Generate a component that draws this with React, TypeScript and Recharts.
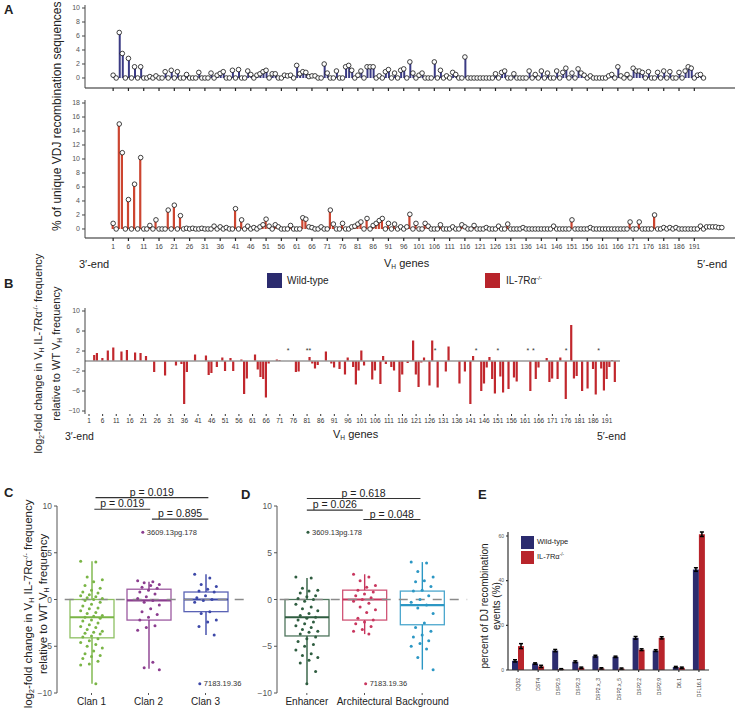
import React from 'react';
import {
  ComposedChart, BarChart, Bar, Scatter, XAxis, YAxis, ReferenceLine, ErrorBar,
} from 'recharts';

const FONT = '"Liberation Sans", Arial, Helvetica, sans-serif';

// ---------- panel A / B : V_H genes ----------
const geneTicks = [1, 6, 11, 16, 21, 26, 31, 36, 41, 46, 51, 56, 61, 66, 71, 76, 81, 86, 91, 96,
  101, 106, 111, 116, 121, 126, 131, 136, 141, 146, 151, 156, 161, 166, 171, 176, 181, 186, 191];

// % of unique VDJ sequences, wild-type (genes 1..194)
const wtFreq = [
  0.4, 0, 6.5, 3.5, 0, 2.8, 0, 1.6, 0, 1.6,
  0, 0, 0.2, 0, 0.3, 0, 0, 0.9, 0, 1.1,
  0, 0.9, 0, 0, 0.5, 0, 0, 0, 0.8, 0,
  0, 0, 0.7, 0, 0.4, 0.65, 0.9, 0, 0, 1.1,
  0, 1.2, 0, 0, 1.0, 0.5, 0, 0.4, 0.6, 0.9,
  1.1, 0, 0.6, 0.6, 0, 0, 0.4, 0.3, 0.4, 0,
  1.8, 0.6, 0.9, 0.8, 0.2, 0.3, 0.3, 0, 0, 2.0,
  0.7, 0, 0, 1.0, 0, 0, 1.6, 1.8, 1.1, 0,
  0.4, 1.0, 0, 1.6, 1.6, 1.6, 0, 0.3, 0, 0.9,
  1.2, 0, 0.7, 0, 1.1, 1.3, 0, 2.3, 0.7, 0,
  0.4, 0.7, 0, 0, 0, 2.3, 0, 1.1, 0, 0.3,
  0, 0.8, 0.5, 0, 0, 3.0, 0, 0, 0, 0,
  0, 0, 0, 0, 0, 0.6, 0, 0.8, 1.0, 0,
  0, 0.6, 0, 0, 0, 0, 1.0, 0, 0.5, 0,
  1.0, 0, 0.7, 0, 0, 1.0, 0, 0.8, 1.4, 0,
  0.7, 0, 1.3, 0.7, 0.4, 0, 0.3, 0, 0, 0,
  0, 0, 0.3, 0.5, 0, 1.6, 0.3, 0, 0.5, 0,
  1.4, 1.0, 1.0, 0.8, 0, 0.9, 0, 0, 0.8, 0,
  1.0, 0, 0.9, 0, 0, 0.8, 0, 1.0, 1.6, 1.4,
  0, 0.4, 0.5, 0,
];

// % of unique VDJ sequences, IL-7Ra-/- (genes 1..200)
const ilFreq = [
  0.8, 0, 15.0, 10.9, 0, 4.2, 0, 6.4, 0, 10.2,
  0, 0, 0.5, 0, 1.3, 0, 0, 0, 2.7, 0,
  3.4, 0, 1.9, 0, 0.1, 0, 0.1, 0, 0, 0.1,
  0, 0, 0, 0.4, 0, 0.3, 0, 0.2, 0, 0,
  2.9, 0, 1.3, 0, 0.4, 0, 0.2, 0, 0.3, 0.6,
  1.4, 0.4, 0, 0.6, 0.3, 0, 0, 0, 0.5, 0,
  0, 0, 1.6, 1.4, 0.3, 0.2, 0, 0, 0.3, 0,
  0, 2.7, 0.7, 0, 0, 0.8, 0, 0, 0.3, 0.4,
  0.7, 1.0, 0, 1.5, 0, 0.5, 0.8, 1.2, 1.5, 0,
  0.8, 0, 0.7, 0, 0.3, 0, 0.3, 2.1, 0, 0.8,
  0, 0, 0.8, 0.4, 0, 0, 0, 0.6, 0, 0,
  0, 0.3, 0, 0, 0.6, 0.3, 0, 0, 0.5, 0,
  0, 0, 0.2, 0, 0, 0, 0.4, 0, 0, 0.7,
  0, 0, 0, 0, 0.2, 0, 0, 0, 0, 0,
  0, 0, 0, 0, 0.4, 0, 0, 0, 0, 0,
  1.3, 0, 0, 0, 0, 0, 0.2, 0, 0, 0,
  0, 0, 0, 0, 0, 0, 0, 0, 0, 1.0,
  0, 0, 1.0, 0, 0, 0, 0, 2.0, 0, 0,
  0.2, 0, 0.2, 0, 0.2, 0, 0, 0, 0, 0,
  0, 0, 0.4, 0, 0.3, 0.3, 0.3, 0.3, 0.2, 0.2,
];

// log2 fold change IL-7Ra-/- vs WT (genes 1..194)
const foldChange = [
  0, 0, 1.2, 1.6, 0, 0.6, 0, 2.1, 0, 2.7,
  0, 0, 1.9, 0, 2.2, 0, 0, 1.7, 0, 1.6,
  0, 1.0, 0, 0, -2.2, 0, 0, 0, -2.9, 0,
  0, 0, -0.9, 0, -0.6, -8.6, -2.2, 0, 0, 1.3,
  0, 0, 0, 1.1, -2.8, -2.4, 0, -1.2, 0, 0.7,
  -2.0, 0, 0.6, -2.0, 0, 0, 0.3, -6.6, -3.5, 0,
  0, 1.3, -1.7, -3.2, -3.6, -7.3, -0.5, 0, 0, 0.3,
  0.2, 0, 0, 0, 0, 0, -2.2, -2.1, 0, 0,
  0, 0.8, -0.5, -1.5, -0.8, 0, 0, 1.9, 0, -0.5,
  -1.3, 0, -1.6, 0, -2.7, 0.7, 0, -1.2, -4.7, -1.9,
  2.1, -0.9, 0, 0, -3.7, -1.9, 0, -4.6, 1.0, -0.6,
  0, -1.2, -1.9, 0, -6.2, -2.7, 0, -0.4, 0, 4.1,
  -2.7, -5.2, -0.3, 0.7, 0, -4.9, 4.1, 0, -5.3, 0,
  0, -2.1, 2.9, 0, 0, 0, -4.5, 0, -2.1, 0,
  -8.6, 1.0, 0, 0, -6.0, -4.5, -1.3, 0.8, -3.6, -6.5,
  0, -3.1, -6.3, 0, -5.6, 0, -3.3, -4.1, 0, 0,
  0, 0, -6.0, 0, -3.6, -1.3, 0, 0, 0.6, -4.2,
  -3.5, 0, -3.6, 0.7, 0, -7.6, 0, 7.2, -3.5, -3.0,
  0, -6.0, 0, -5.5, 0, -1.6, -6.7, 0, -1.5, -5.9,
  -3.6, -1.2, 0.2, -4.2,
];
const starGenes = [74, 81, 82, 128, 143, 151, 162, 164, 176, 188];
const starLevel = 2.2;

// ---------- panel C : clans ----------
const clanNames = ['Clan 1', 'Clan 2', 'Clan 3'];
const clanLo = [-9.0, -7.4, -3.8];
const clanQ1 = [-4.1, -2.2, -1.3];
const clanMed = [-1.9, -0.1, 0.0];
const clanQ3 = [0.0, 1.1, 0.8];
const clanHi = [4.1, 1.9, 2.7];
const clanColors = ['#7ab546', '#8b3d8f', '#3d48a8'];
const clan1Pts = [4.1, 4.0, 2.4, 2.1, 1.9, 1.5, 1.2, 1.0, 0.8, 0.7, 0.5, 0.4, 0.3, 0.2, 0.1, 0.0, -0.1,
  -0.3, -0.5, -0.7, -0.9, -1.0, -1.2, -1.4, -1.5, -1.7, -1.8, -1.9, -2.0, -2.2, -2.3, -2.5, -2.7,
  -2.9, -3.0, -3.2, -3.4, -3.5, -3.6, -3.7, -3.9, -4.0, -4.2, -4.4, -4.6, -4.8, -5.0, -5.2, -5.5,
  -5.8, -6.0, -6.1, -6.3, -6.6, -6.9, -7.0, -9.0];
const clan2Pts = [2.0, 1.9, 1.8, 1.6, 1.5, 1.3, 1.2, 1.0, 0.8, 0.6, 0.3, 0.1, -0.1, -0.3, -0.6, -1.0,
  -1.3, -1.6, -1.9, -2.2, -2.8, -3.0, -3.3, -6.7, -7.3, -7.5];
const clan3Pts = [2.7, 2.3, 1.6, 1.4, 1.1, 0.9, 0.8, 0.4, 0.2, 0.0, -0.1, -0.3, -1.3, -1.5, -2.2,
  -2.4, -2.9, -3.8];
const clanOutVals = [7.2, -9.0];
const clanOutGroup = [1, 2];
const outNames = ['3609.13pg.178', '7183.19.36'];
const clanP = ['p = 0.019', 'p = 0.019', 'p = 0.895'];

// ---------- panel D : regions ----------
const regNames = ['Enhancer', 'Architectural', 'Background'];
const regLo = [-9.0, -3.7, -7.5];
const regQ1 = [-3.9, -2.2, -2.7];
const regMed = [-1.9, 0.0, -0.6];
const regQ3 = [0.0, 1.0, 0.9];
const regHi = [2.3, 2.7, 4.0];
const regColors = ['#2f5d40', '#c8365e', '#2c97c4'];
const enhPts = [2.4, 2.3, 1.2, 1.0, 0.9, 0.7, 0.4, 0.3, 0.1, 0.0, -0.2, -0.5, -0.8, -1.0, -1.2, -1.5,
  -1.7, -1.9, -2.0, -2.2, -2.4, -2.6, -2.8, -3.0, -3.2, -3.4, -3.5, -3.7, -4.0, -4.2, -4.5, -4.8,
  -5.0, -5.4, -5.8, -6.0, -6.2, -6.5, -6.8, -7.7, -9.0];
const archPts = [2.7, 2.4, 2.0, 1.5, 1.3, 1.0, 0.8, 0.6, 0.4, 0.2, 0.0, -0.2, -0.4, -0.8, -1.1, -1.4,
  -2.0, -2.2, -2.4, -2.6, -2.9, -3.2, -3.4, -3.7];
const backPts = [4.0, 3.9, 3.0, 2.4, 2.0, 1.9, 1.4, 1.0, 0.9, 0.4, 0.0, -0.3, -0.6, -0.9, -1.5, -2.5,
  -3.0, -3.4, -3.8, -4.0, -4.4, -4.7, -5.0, -5.3, -6.2, -7.5];
const regOutVals = [7.2, -9.0];
const regOutGroup = [0, 1];
const regP = ['p = 0.618', 'p = 0.026', 'p = 0.048'];

// ---------- panel E : DJ recombination ----------
const dNames = ['DQ52', 'DST4', 'DSP2.5', 'DSP2.3', 'DSP2.x_3', 'DSP2.x_5', 'DSP2.2', 'DSP2.9', 'D6.1', 'DFL16.1'];
const dWT = [4.1, 2.9, 8.7, 3.7, 6.2, 5.9, 14.4, 8.7, 1.3, 45.0];
const dIL = [10.7, 1.6, 0.4, 1.0, 0.7, 0.6, 9.1, 14.4, 1.0, 60.8];
const dWTErr = [0.5, 0.3, 0.5, 0.4, 0.4, 0.3, 0.6, 0.4, 0.3, 0.8];
const dILErr = [1.1, 0.5, 0.2, 0.3, 0.3, 0.3, 0.4, 0.5, 0.3, 1.0];

const WT_BLUE = '#2b2b6e';
const IL_RED = '#b8242b';

const wtTable = wtFreq.map((v, i) => ({ gene: i + 1, v }));
const ilTable = ilFreq.map((v, i) => ({ gene: i + 1, v }));
const fcTable = foldChange.map((v, i) => ({ gene: i + 1, v }));
const starTable = starGenes.map((g) => ({ gene: g, v: starLevel }));

const boxTable = (names: string[], lo: number[], q1: number[], med: number[], q3: number[], hi: number[], colors: string[]) =>
  names.map((name, i) => ({ name, lo: lo[i], q1: q1[i], med: med[i], q3: q3[i], hi: hi[i], color: colors[i] }));

// deterministic spread so the dots do not sit on one line
const spread = (i: number) => ((((i * 7) % 11) / 10) - 0.5) * 0.38;
const dotTable = (vals: number[], group: number) => vals.map((y, i) => ({ x: group + spread(i), y }));

const Ring = (p: any) => (
  <circle cx={p.cx} cy={p.cy} r={2.3} fill="#fff" stroke="#111" strokeWidth={0.8} />
);

const Star = (p: any) => (
  <text x={p.cx} y={p.cy + 3} textAnchor="middle" fontSize={7} fill="#333">*</text>
);

const BoxShape = (p: any) => {
  const d = p.payload;
  const top = Math.min(p.y, p.y + p.height);
  const bot = Math.max(p.y, p.y + p.height);
  const k = (bot - top) / (d.hi - d.lo);
  const py = (v: number) => top + (d.hi - v) * k;
  const cx = p.x + p.width / 2;
  return (
    <g>
      <line x1={cx} x2={cx} y1={py(d.hi)} y2={py(d.q3)} stroke={d.color} strokeWidth={1.4} />
      <line x1={cx} x2={cx} y1={py(d.q1)} y2={py(d.lo)} stroke={d.color} strokeWidth={1.4} />
      <rect x={p.x} y={py(d.q3)} width={p.width} height={py(d.q1) - py(d.q3)} fill="none"
        stroke={d.color} strokeOpacity={0.85} strokeWidth={1.3} />
      <line x1={p.x} x2={p.x + p.width} y1={py(d.med)} y2={py(d.med)} stroke={d.color} strokeWidth={2.2} />
    </g>
  );
};

const makeDot = (color: string) => (p: any) => (
  <circle cx={p.cx} cy={p.cy} r={1.5} fill={color} />
);

const OutDot = (p: any) => (
  <g>
    <circle cx={p.cx} cy={p.cy} r={1.5} fill={p.payload.color} />
    <text x={p.cx + 4} y={p.cy + 2.5} fontSize={7.5} fill="#333">{p.payload.label}</text>
  </g>
);

const RotLabel = ({ cx, cy, w, size, children }: any) => (
  <div style={{
    position: 'absolute', left: cx - w / 2, top: cy - size * 0.6, width: w, height: size * 1.2,
    lineHeight: `${size * 1.2}px`, fontSize: size, textAlign: 'center', whiteSpace: 'nowrap',
    transform: 'rotate(-90deg)', transformOrigin: 'center',
  }}>{children}</div>
);

const Txt = ({ x, y, size, bold, children }: any) => (
  <div style={{ position: 'absolute', left: x, top: y, fontSize: size, fontWeight: bold ? 700 : 400, whiteSpace: 'nowrap', lineHeight: 1 }}>
    {children}
  </div>
);

// sub/superscripts that do not grow the line box
const Sub = ({ children }: any) => (
  <span style={{ fontSize: '0.6em', position: 'relative', top: '0.35em', lineHeight: 0 }}>{children}</span>
);
const Sup = ({ children }: any) => (
  <span style={{ fontSize: '0.6em', position: 'relative', top: '-0.6em', lineHeight: 0 }}>{children}</span>
);
const VH = () => <span>V<Sub>H</Sub></span>;
const KO = () => <span>IL-7Rα<Sup>-/-</Sup></span>;

const DTick = (p: any) => (
  <text x={p.x} y={p.y + 4} transform={`rotate(-90 ${p.x} ${p.y + 4})`} textAnchor="end"
    dominantBaseline="central" fontSize={5} fill="#333">{p.payload.value}</text>
);

const BoxPanel = ({ table, dots, outs, pvals, pSeg, yAxisW, padLeft, mRight, width }: any) => (
  <ComposedChart width={width} height={241} data={table} margin={{ top: 36, right: mRight, bottom: 0, left: 0 }}>
    <XAxis xAxisId="cat" dataKey="name" height={18} padding={{ left: padLeft, right: 0 }} axisLine={false}
      tickSize={2} tickMargin={3} stroke="#555" tick={{ fontSize: 10, fill: '#222' }} interval={0} />
    <XAxis xAxisId="jit" dataKey="x" type="number" domain={[-0.5, 2.5]} hide padding={{ left: padLeft, right: 0 }} />
    <YAxis domain={[-10, 10]} ticks={[-10, -5, 0, 5, 10]} width={yAxisW} tickSize={3} stroke="#555"
      tick={{ fontSize: 8.5, fill: '#555' }} tickFormatter={(v: number) => (v < 0 ? `\u2212${-v}` : `${v}`)} />
    <ReferenceLine xAxisId="jit" segment={[{ x: -0.47, y: 0 }, { x: 2.78, y: 0 }]} stroke="#8a8a8a"
      strokeDasharray="9 8" strokeWidth={1.3} ifOverflow="visible" />
    <Bar xAxisId="cat" dataKey={(d: any) => [d.lo, d.hi]} barSize={44} shape={BoxShape} isAnimationActive={false} />
    {dots.map((s: any, i: number) => (
      <Scatter key={i} xAxisId="jit" data={s.data} dataKey="y" shape={makeDot(s.color)} isAnimationActive={false} />
    ))}
    <Scatter xAxisId="jit" data={outs} dataKey="y" shape={OutDot} isAnimationActive={false} />
    {pvals.map((p: string, i: number) => (
      <ReferenceLine key={p + i} xAxisId="jit" segment={pSeg[i]} stroke="#333" strokeWidth={1.1} ifOverflow="visible"
        label={{ value: p, position: 'top', fontSize: 10.5, fill: '#222', offset: 2 }} />
    ))}
  </ComposedChart>
);

const clanTable = boxTable(clanNames, clanLo, clanQ1, clanMed, clanQ3, clanHi, clanColors);
const regTable = boxTable(regNames, regLo, regQ1, regMed, regQ3, regHi, regColors);
const clanDots = [
  { data: dotTable(clan1Pts, 0), color: clanColors[0] },
  { data: dotTable(clan2Pts, 1), color: clanColors[1] },
  { data: dotTable(clan3Pts, 2), color: clanColors[2] },
];
const regDots = [
  { data: dotTable(enhPts, 0), color: regColors[0] },
  { data: dotTable(archPts, 1), color: regColors[1] },
  { data: dotTable(backPts, 2), color: regColors[2] },
];
const clanOuts = clanOutVals.map((y, i) => ({ x: clanOutGroup[i] - 0.1, y, label: outNames[i], color: clanColors[clanOutGroup[i]] }));
const regOuts = regOutVals.map((y, i) => ({ x: regOutGroup[i] + 0.02, y, label: outNames[i], color: regColors[regOutGroup[i]] }));

const clanSeg = [
  [{ x: 0.07, y: 10.9 }, { x: 2.05, y: 10.9 }],
  [{ x: 0.05, y: 9.66 }, { x: 1.03, y: 9.66 }],
  [{ x: 1.06, y: 8.6 }, { x: 2.05, y: 8.6 }],
];
const regSeg = [
  [{ x: 0.0, y: 10.8 }, { x: 1.97, y: 10.8 }],
  [{ x: 0.0, y: 9.56 }, { x: 0.97, y: 9.56 }],
  [{ x: 0.98, y: 8.55 }, { x: 1.97, y: 8.55 }],
];

const dTable = dNames.map((name, i) => ({ name, wt: dWT[i], il: dIL[i], wtErr: dWTErr[i], ilErr: dILErr[i] }));

export default function App() {
  return (
    <div style={{ position: 'absolute', left: 0, top: 0, width: 739, height: 711, background: '#fff', fontFamily: FONT, color: '#222', overflow: 'hidden' }}>
      {/* A: wild-type */}
      <div style={{ position: 'absolute', left: 0, top: 0 }}>
        <ComposedChart width={739} height={100} data={wtTable} margin={{ top: 5, right: 4, bottom: 0, left: 0 }}>
          <XAxis dataKey="gene" type="number" domain={[-8.2, 204.3]} ticks={geneTicks} tickFormatter={() => ''}
            height={12} tickSize={3} stroke="#222" strokeWidth={1.2} allowDataOverflow />
          <YAxis domain={[-1.43, 10.43]} ticks={[0, 2, 4, 6, 8, 10]} width={85} tickSize={3} stroke="#444"
            tick={{ fontSize: 7, fill: '#555' }} allowDataOverflow />
          <Bar dataKey="v" fill="#3b3b84" barSize={2} isAnimationActive={false} />
          <Scatter dataKey="v" shape={Ring} isAnimationActive={false} />
        </ComposedChart>
      </div>
      {/* A: IL-7Ra-/- */}
      <div style={{ position: 'absolute', left: 0, top: 95 }}>
        <ComposedChart width={739} height={165} data={ilTable} margin={{ top: 5, right: 4, bottom: 0, left: 0 }}>
          <XAxis dataKey="gene" type="number" domain={[-8.2, 204.3]} ticks={geneTicks} interval={0}
            height={22} tickSize={3} tickMargin={3} stroke="#222" strokeWidth={1.2} tick={{ fontSize: 6.8, fill: '#444' }} allowDataOverflow />
          <YAxis domain={[-1.29, 18.43]} ticks={[0, 2, 4, 6, 8, 10, 12, 14, 16, 18]} width={85} tickSize={3}
            stroke="#444" tick={{ fontSize: 7, fill: '#555' }} allowDataOverflow />
          <Bar dataKey="v" fill="#cc4530" barSize={2.2} isAnimationActive={false} />
          <Scatter dataKey="v" shape={Ring} isAnimationActive={false} />
        </ComposedChart>
      </div>
      <Txt x={4} y={3} size={13} bold>A</Txt>
      <RotLabel cx={57} cy={116} w={240} size={12}>% of unique VDJ recombination sequences</RotLabel>
      <Txt x={79} y={259} size={11}>3′-end</Txt>
      <Txt x={384} y={258} size={11}><VH /> genes</Txt>
      <Txt x={697} y={259} size={11}>5′-end</Txt>

      {/* legend */}
      <div style={{ position: 'absolute', left: 267, top: 273, width: 15, height: 15, background: WT_BLUE }} />
      <Txt x={287} y={276} size={10}>Wild-type</Txt>
      <div style={{ position: 'absolute', left: 485, top: 273, width: 15, height: 15, background: IL_RED }} />
      <Txt x={506} y={276} size={10}><KO /></Txt>

      {/* B */}
      <div style={{ position: 'absolute', left: 0, top: 300 }}>
        <ComposedChart width={739} height={130} data={fcTable} margin={{ top: 8, right: 119, bottom: 0, left: 0 }}>
          <XAxis dataKey="gene" type="number" domain={[-0.47, 195.8]} ticks={geneTicks} interval={0} axisLine={false}
            height={16} tickSize={2} tickMargin={2} stroke="#333" tick={{ fontSize: 6.5, fill: '#333' }} allowDataOverflow />
          <YAxis domain={[-10.6, 10.6]} ticks={[-10, -8, -6, -4, -2, 0, 2, 4, 6, 8, 10]} width={85} tickSize={3}
            stroke="#444" tick={{ fontSize: 7, fill: '#555' }} tickFormatter={(v: number) => (v < 0 ? `\u2212${-v}` : `${v}`)} />
          <ReferenceLine y={0} stroke="#999" strokeWidth={1.5} />
          <Bar dataKey="v" fill="#c1272d" barSize={2.2} isAnimationActive={false} />
          <Scatter data={starTable} dataKey="v" shape={Star} isAnimationActive={false} />
        </ComposedChart>
      </div>
      <Txt x={4} y={277} size={13} bold>B</Txt>
      <RotLabel cx={39} cy={354} w={240} size={11}>log<Sub>2</Sub>-fold change in <VH /> <KO /> frequency</RotLabel>
      <RotLabel cx={57} cy={354} w={200} size={11}>relative to WT <VH /> frequency</RotLabel>
      <Txt x={65} y={431} size={10.5}>3′-end</Txt>
      <Txt x={333} y={429} size={11}><VH /> genes</Txt>
      <Txt x={597} y={431} size={10.5}>5′-end</Txt>

      {/* C */}
      <div style={{ position: 'absolute', left: 0, top: 470 }}>
        <BoxPanel table={clanTable} dots={clanDots} outs={clanOuts} pvals={clanP} pSeg={clanSeg}
          yAxisW={57} padLeft={6} mRight={16} width={250} />
      </div>
      <Txt x={4} y={486} size={13} bold>C</Txt>
      <RotLabel cx={29} cy={604} w={230} size={11.5}>log<Sub>2</Sub>-fold change in <VH /> <KO /> frequency</RotLabel>
      <RotLabel cx={44} cy={604} w={200} size={11.5}>relative to WT <VH /> frequency</RotLabel>

      {/* D */}
      <div style={{ position: 'absolute', left: 230, top: 470 }}>
        <BoxPanel table={regTable} dots={regDots} outs={regOuts} pvals={regP} pSeg={regSeg}
          yAxisW={47} padLeft={1} mRight={29} width={250} />
      </div>
      <Txt x={241} y={488} size={13} bold>D</Txt>

      {/* E */}
      <Txt x={478} y={488} size={13} bold>E</Txt>
      <div style={{ position: 'absolute', left: 480, top: 520 }}>
        <BarChart width={259} height={191} data={dTable} margin={{ top: 12, right: 30, bottom: 0, left: 0 }} barGap={0}>
          <XAxis dataKey="name" height={41} interval={0} tickSize={2} stroke="#333" strokeWidth={1.2} tick={DTick} />
          <YAxis domain={[0, 61]} ticks={[0, 20, 40, 60]} width={28} tickSize={2} stroke="#333" strokeWidth={1.2}
            tick={{ fontSize: 5, fill: '#555' }} />
          <Bar dataKey="wt" fill={WT_BLUE} barSize={6} isAnimationActive={false}>
            <ErrorBar dataKey="wtErr" width={2} strokeWidth={1.5} stroke="#000" />
          </Bar>
          <Bar dataKey="il" fill={IL_RED} barSize={6} isAnimationActive={false}>
            <ErrorBar dataKey="ilErr" width={2} strokeWidth={1.5} stroke="#000" />
          </Bar>
        </BarChart>
      </div>
      <RotLabel cx={485} cy={606} w={200} size={10}>percent of DJ recombination</RotLabel>
      <RotLabel cx={497} cy={606} w={100} size={10}>events (%)</RotLabel>
      <div style={{ position: 'absolute', left: 521, top: 536, width: 13, height: 13, background: WT_BLUE }} />
      <Txt x={537} y={538} size={7.5}>Wild-type</Txt>
      <div style={{ position: 'absolute', left: 521, top: 551, width: 13, height: 13, background: IL_RED }} />
      <Txt x={537} y={553} size={7.5}><KO /></Txt>
    </div>
  );
}
